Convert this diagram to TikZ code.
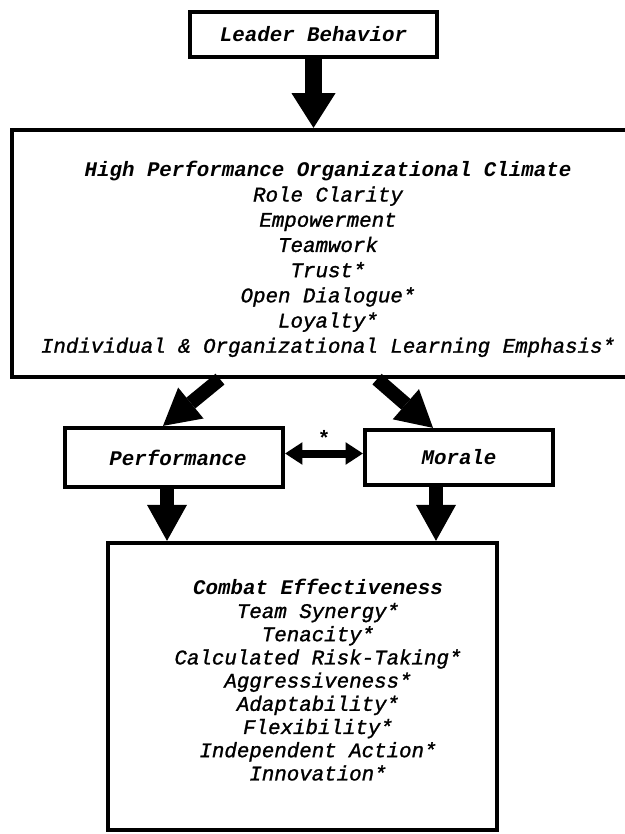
\documentclass[tikz,border=0pt]{standalone}
\usepackage{fontspec}
\setmainfont{Liberation Mono}
\newfontfamily\itemfont[FakeBold=1.2]{Liberation Mono}
\usetikzlibrary{arrows.meta,calc}
\begin{document}
\begin{tikzpicture}[x=0.75pt,y=-0.75pt,
  box/.style={draw=black,line width=3.2pt,fill=none,inner sep=0pt},
  lbl/.style={font=\fontsize{15.6}{18}\selectfont\bfseries\itshape},
  txt/.style={align=center,inner sep=0pt},
  bigarrow/.style={line width=13pt,-{Triangle[width=33pt,length=26pt,line width=0pt]}},
  medarrow/.style={line width=10.5pt,-{Triangle[width=30pt,length=27pt,line width=0pt]}},
  dblarrow/.style={line width=6pt,{Triangle[width=17pt,length=13pt,line width=0pt]}-{Triangle[width=17pt,length=13pt,line width=0pt]}}]
\useasboundingbox (0,0) rectangle (624,834);
\fill[white] (0,0) rectangle (624,834);

% boxes
\node[box,minimum width=185.25pt,minimum height=33.75pt,lbl] (leader) at (313.5,34.5) {Leader Behavior};
\node[box,minimum width=465pt,minimum height=185.25pt] (climate) at (322,253.5) {};
\node[box,minimum width=163.5pt,minimum height=44.25pt,lbl] (perf) at (174,457.5) {\hspace{6pt}Performance};
\node[box,minimum width=141pt,minimum height=41.25pt,lbl] (morale) at (459,457.5) {Morale};
\node[box,minimum width=291.75pt,minimum height=215.25pt] (combat) at (302.5,686.5) {};

% texts
\node[txt,font=\itemfont\fontsize{15.6}{18.9}\selectfont\itshape] (climtext) at (328,259) {%
{\normalfont\bfseries\itshape High Performance Organizational Climate}\\
Role Clarity\\
Empowerment\\
Teamwork\\
Trust*\\
Open Dialogue*\\
Loyalty*\\
Individual \& Organizational Learning Emphasis*};

\node[txt,font=\itemfont\fontsize{15.6}{17.4}\selectfont\itshape] (combtext) at (318,680) {%
{\normalfont\bfseries\itshape Combat Effectiveness}\\
Team Synergy*\\
Tenacity*\\
Calculated Risk-Taking*\\
Aggressiveness*\\
Adaptability*\\
Flexibility*\\
Independent Action*\\
Innovation*};

% connector anchor coordinates
\coordinate (la) at (220,377);
\coordinate (lb) at (163,428);
\coordinate (ra) at (377,377);
\coordinate (rb) at (433,428);
\coordinate (pc) at (167,0);
\coordinate (mc) at (436,0);

% connectors
\draw[bigarrow] (leader.south) -- (climate.north -| leader.south);
\draw[medarrow] (climate.south -| la) -- (perf.north -| lb);
\draw[medarrow] (climate.south -| ra) -- (morale.north -| rb);
\draw[medarrow] (perf.south -| pc) -- (combat.north -| pc);
\draw[medarrow] (morale.south -| mc) -- (combat.north -| mc);
\draw[dblarrow] ([yshift=3pt]perf.east) -- node[above=3pt,inner sep=0pt,font=\fontsize{15.6}{18}\selectfont\bfseries] (star) {*} ([yshift=3pt]perf.east -| morale.west);
\end{tikzpicture}
\end{document}
